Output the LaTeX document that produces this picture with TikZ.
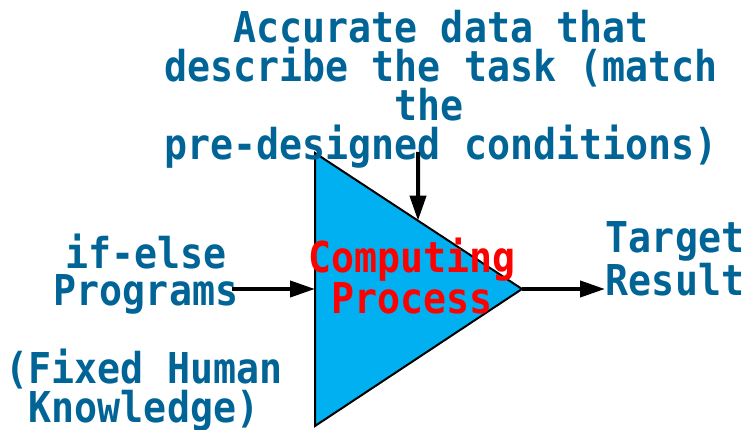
\documentclass[tikz,border=0pt]{standalone}
\usepackage{fontspec}
\setmainfont{DejaVu Sans Mono}[FakeStretch=0.9]
\usetikzlibrary{arrows.meta,calc}
\definecolor{txtblue}{RGB}{0,100,150}
\definecolor{procblue}{HTML}{00B0F0}
\tikzset{
  lbl/.style={text=txtblue, align=center, inner sep=0pt, anchor=base},
  proc/.style={text=red, align=center, inner sep=0pt, anchor=base},
  flow/.style={line width=4pt, -{Triangle[length=25pt,width=16pt]}},
  tri/.style={fill=procblue, draw=black, line width=2pt, line join=miter}
}
\begin{document}
\begin{tikzpicture}[x=1pt,y=-1pt]
\useasboundingbox (0,0) rectangle (754,430);
% triangle
\coordinate (tl) at (315,153);
\coordinate (bl) at (315,426);
\coordinate (apex) at (522,289);
\draw[tri] (tl) -- (apex) -- (bl) -- cycle;
% texts (anchor = baseline of the last line)
\node[lbl, font=\fontsize{42.5}{39}\selectfont\bfseries] (data) at (441,160)
  {Accurate data that\\describe the task (match\\the\phantom{ }\\pre-designed conditions)};
\node[lbl, font=\fontsize{42.5}{37}\selectfont\bfseries] (prog) at (146,305)
  {if-else\\Programs};
\node[lbl, font=\fontsize{42.5}{34}\selectfont\bfseries] (know) at (144,422)
  {(Fixed Human\\Knowledge)};
\node[lbl, font=\fontsize{42.5}{37}\selectfont\bfseries] (res) at (675,295)
  {Target\\Result};
\node[proc, font=\fontsize{42.5}{35}\selectfont\bfseries] (comp) at (412,313)
  {Computing\\Process};
% connectors
\coordinate (inL) at (232,289);
\coordinate (triL) at (315,289);
\coordinate (inT) at (418,152);
\coordinate (triT) at ($(tl)!0.4976!(apex)$);
\coordinate (outR) at (605,289);
\draw[flow] (inL) -- (triL);
\draw[flow] (inT) -- (triT);
\draw[flow] (apex) -- (outR);
\end{tikzpicture}
\end{document}
